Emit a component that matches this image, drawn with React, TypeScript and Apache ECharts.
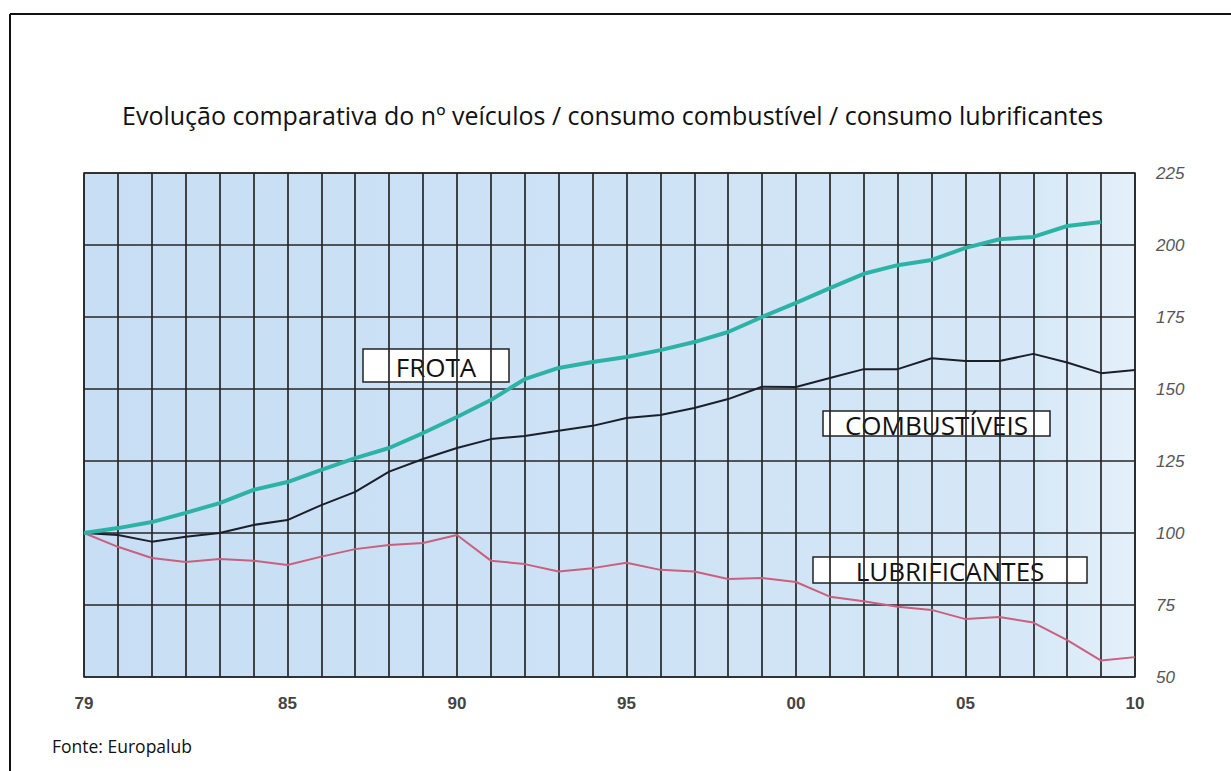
import React, { useEffect, useRef } from "react";
import * as echarts from "echarts";

const years = [
  1979, 1980, 1981, 1982, 1983, 1984, 1985, 1986, 1987, 1988, 1989, 1990,
  1991, 1992, 1993, 1994, 1995, 1996, 1997, 1998, 1999, 2000, 2001, 2002,
  2003, 2004, 2005, 2006, 2007, 2008, 2009, 2010,
];

const frota = [
  100, 101.7, 103.8, 107, 110.4, 115, 117.7, 121.9, 126, 129.5, 134.7, 140.3,
  146.2, 153.4, 157.3, 159.4, 161.1, 163.5, 166.3, 169.8, 175, 179.9, 185,
  190, 193, 194.8, 199, 202, 202.8, 206.6, 208,
];

const combustiveis = [
  100, 99.3, 97, 98.7, 100, 102.8, 104.5, 109.7, 114.3, 121.3, 125.7, 129.5,
  132.6, 133.7, 135.5, 137.2, 139.9, 141, 143.4, 146.5, 150.8, 150.7, 153.8,
  156.9, 156.9, 160.7, 159.7, 159.7, 162.2, 159.2, 155.5, 156.6,
];

const lubrificantes = [
  100, 95.2, 91.3, 89.9, 91, 90.4, 88.9, 91.8, 94.4, 95.8, 96.5, 99.3, 90.4,
  89.2, 86.6, 87.8, 89.7, 87.2, 86.6, 84, 84.4, 83, 77.9, 76.3, 74.4, 73.3,
  70.1, 70.8, 68.9, 62.8, 55.7, 56.9,
];

const xTickYears = [1979, 1985, 1990, 1995, 2000, 2005, 2010];
const yTicks = [50, 75, 100, 125, 150, 175, 200, 225];

const titleText =
  "Evolução comparativa do nº veículos / consumo combustível / consumo lubrificantes";
const sourceText = "Fonte: Europalub";
const seriesNames = ["FROTA", "COMBUSTÍVEIS", "LUBRIFICANTES"];

function pairs(vals: number[]) {
  return vals.map((v, i) => [years[i], v]);
}

function labelBox(
  text: string,
  x: number,
  y: number,
  w: number,
  h: number,
  fontSize: number
) {
  return {
    type: "group",
    x,
    y,
    children: [
      {
        type: "rect",
        shape: { x: 0, y: 0, width: w, height: h },
        style: { fill: "#ffffff", stroke: "#222222", lineWidth: 1.5 },
      },
      {
        type: "text",
        x: w / 2,
        y: h / 2 + 1,
        style: {
          text,
          fill: "#111111",
          font: fontSize + 'px "Open Sans", sans-serif',
          textAlign: "center",
          textVerticalAlign: "middle",
        },
      },
    ],
  };
}

export default function App() {
  const ref = useRef<HTMLDivElement>(null);

  useEffect(() => {
    document.body.style.margin = "0";
    if (!ref.current) return;
    const chart = echarts.init(ref.current, null, { renderer: "svg" });
    const option = {
      animation: false,
      backgroundColor: "#ffffff",
      grid: {
        left: 84,
        right: 96,
        top: 173,
        bottom: 94,
        show: true,
        borderColor: "#2a2a2a",
        borderWidth: 1.5,
        backgroundColor: {
          type: "linear",
          x: 0,
          y: 0,
          x2: 1,
          y2: 0,
          colorStops: [
            { offset: 0, color: "#c8def4" },
            { offset: 0.5, color: "#cde2f5" },
            { offset: 0.9, color: "#d6e8f7" },
            { offset: 1, color: "#e4f0fa" },
          ],
        },
      },
      xAxis: {
        type: "value",
        min: 1979,
        max: 2010,
        interval: 1,
        axisLine: { show: false },
        axisTick: { show: false },
        splitLine: { show: true, lineStyle: { color: "#262626", width: 1.7 } },
        axisLabel: {
          margin: 18,
          color: "#444444",
          fontFamily: '"Liberation Sans", Arial, sans-serif',
          fontWeight: "bold",
          fontSize: 17,
          showMinLabel: true,
          showMaxLabel: true,
          formatter: (v: number) =>
            xTickYears.includes(v) ? String(v % 100).padStart(2, "0") : "",
        },
      },
      yAxis: {
        type: "value",
        position: "right",
        min: yTicks[0],
        max: yTicks[yTicks.length - 1],
        interval: 25,
        axisLine: { show: false },
        axisTick: { show: false },
        splitLine: { show: true, lineStyle: { color: "#262626", width: 1.7 } },
        axisLabel: {
          margin: 21,
          color: "#555555",
          fontFamily: '"Liberation Sans", Arial, sans-serif',
          fontStyle: "italic",
          fontSize: 17,
        },
      },
      title: {
        text: titleText,
        left: 117,
        top: 97,
        textStyle: {
          fontFamily: '"Open Sans", sans-serif',
          fontWeight: "normal",
          fontSize: 25,
          color: "#111111",
        },
      },
      graphic: [
        {
          type: "line",
          shape: { x1: 10, y1: 14, x2: 1231, y2: 14 },
          style: { stroke: "#111111", lineWidth: 2 },
        },
        {
          type: "line",
          shape: { x1: 10, y1: 14, x2: 10, y2: 771 },
          style: { stroke: "#111111", lineWidth: 2 },
        },
        {
          type: "text",
          x: 52,
          y: 746,
          style: {
            text: sourceText,
            fill: "#111111",
            font: '17.5px "Open Sans", sans-serif',
            textVerticalAlign: "middle",
          },
        },
        labelBox(seriesNames[0], 363, 349, 146, 33, 26),
        labelBox(seriesNames[1], 823, 411, 227, 25, 26),
        labelBox(seriesNames[2], 813, 557, 274, 26, 26),
      ],
      series: [
        {
          name: seriesNames[0],
          type: "line",
          data: pairs(frota),
          showSymbol: false,
          lineStyle: { color: "#2db3a5", width: 4 },
          z: 5,
        },
        {
          name: seriesNames[1],
          type: "line",
          data: pairs(combustiveis),
          showSymbol: false,
          lineStyle: { color: "#1b1f2b", width: 2 },
          z: 4,
        },
        {
          name: seriesNames[2],
          type: "line",
          data: pairs(lubrificantes),
          showSymbol: false,
          lineStyle: { color: "#c8607e", width: 2 },
          z: 4,
        },
      ],
    };
    chart.setOption(option as any);
    return () => chart.dispose();
  }, []);

  return <div ref={ref} style={{ width: 1231, height: 771 }} />;
}
